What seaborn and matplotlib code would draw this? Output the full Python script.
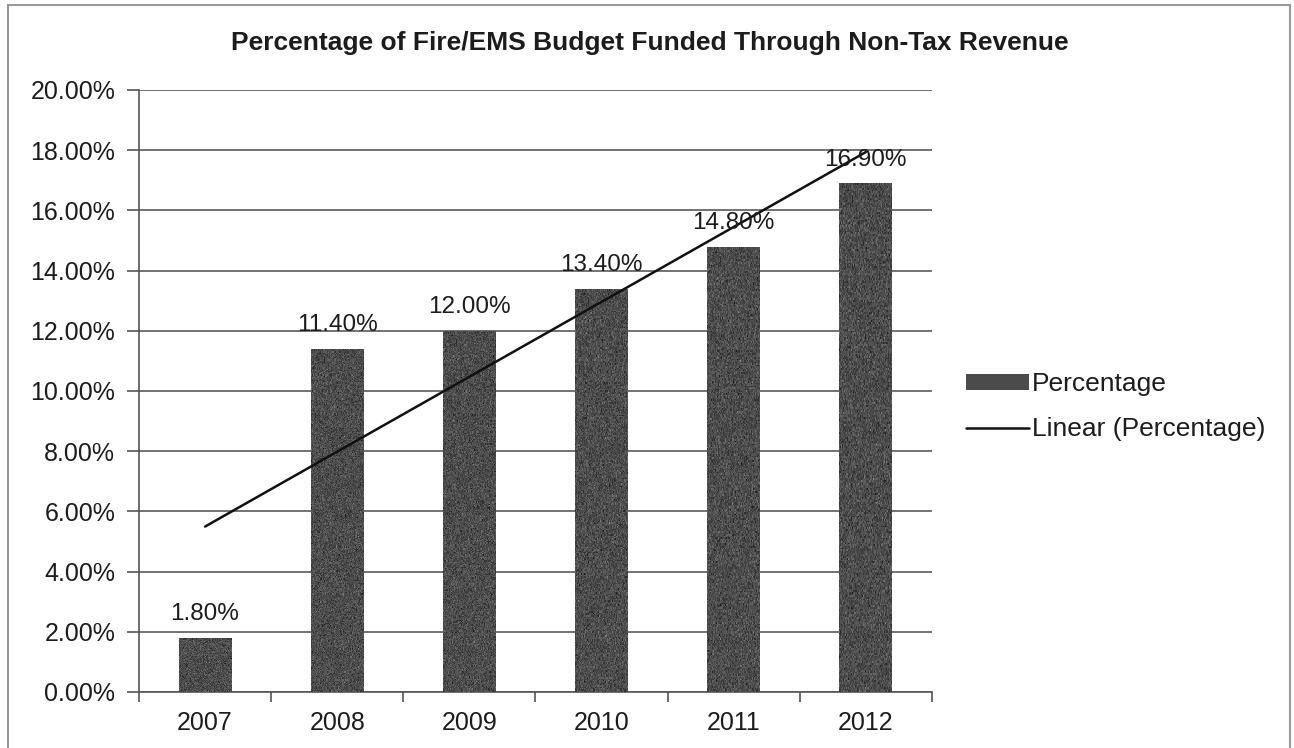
import numpy as np
import pandas as pd
import matplotlib
matplotlib.use("Agg")
import matplotlib.pyplot as plt
from matplotlib.patches import Patch, Rectangle
from matplotlib.lines import Line2D
import seaborn as sns

# Share of the Fire/EMS budget funded through non-tax revenue, by year
years = ["2007", "2008", "2009", "2010", "2011", "2012"]
percentages = [1.80, 11.40, 12.00, 13.40, 14.80, 16.90]

sns.set_theme(style="white")
plt.rcParams["font.family"] = ["Liberation Sans", "DejaVu Sans"]

df = pd.DataFrame({"Year": years, "Percentage": percentages})

fig = plt.figure(figsize=(12.94, 7.48), dpi=100)
ax = fig.add_axes([0.1074, 0.0749, 0.6128, 0.8048])

text_color = "#1c1c1c"
bar_color = "#4b4b4b"
sns.barplot(data=df, x="Year", y="Percentage", color=bar_color, width=0.4,
            saturation=1, linewidth=0, ax=ax, zorder=3)

# Print-style speckle inside the bars
rng = np.random.default_rng(7)
speckle = rng.normal(0.30, 0.06, size=(300, 60)).clip(0, 1)
for bar in ax.patches:
    x0, y0 = bar.get_x(), bar.get_y()
    w, h = bar.get_width(), bar.get_height()
    im = ax.imshow(speckle, cmap="gray", vmin=0, vmax=1, aspect="auto",
                   extent=(x0, x0 + w, y0, y0 + h), interpolation="nearest",
                   zorder=3.5)
    im.set_clip_path(bar)

# Linear trendline fitted through the yearly values
xs = np.arange(len(percentages))
slope, intercept = np.polyfit(xs, percentages, 1)
ax.plot(xs, slope * xs + intercept, color="#111111", lw=1.8, zorder=5)

# Value labels above each bar
for i, v in enumerate(percentages):
    ax.annotate(f"{v:.2f}%", (i, v), xytext=(0, 9), textcoords="offset points",
                ha="center", va="bottom", fontsize=17.5, color=text_color, zorder=6)

ax.set_ylim(0, 20)
ax.set_xlim(-0.5, len(years) - 0.5)
ax.set_yticks(np.arange(0, 20.01, 2))
ax.set_yticklabels([f"{t:.2f}%" for t in np.arange(0, 20.01, 2)])
ax.yaxis.grid(True, color="#5a5a5a", lw=1.2, zorder=0)
ax.set_axisbelow(True)
ax.set_xlabel("")
ax.set_ylabel("")

# Category boundary ticks on the x axis, labels centred under bars
ax.set_xticks(np.arange(-0.5, len(years) + 0.5, 1), minor=False)
ax.set_xticklabels([])
ax.set_xticks(xs, minor=True)
ax.set_xticklabels(years, minor=True)
ax.tick_params(axis="x", which="major", direction="out", length=7, width=1.2,
               color="#555555", bottom=True)
ax.tick_params(axis="x", which="minor", length=0, pad=14, labelsize=18,
               labelcolor=text_color)
ax.tick_params(axis="y", direction="out", length=9, width=1.2, color="#555555",
               left=True, pad=8, labelsize=18, labelcolor=text_color)

for side in ["top", "right"]:
    ax.spines[side].set_visible(False)
for side in ["left", "bottom"]:
    ax.spines[side].set_color("#555555")
    ax.spines[side].set_linewidth(1.2)

fig.text(0.502, 0.943, "Percentage of Fire/EMS Budget Funded Through Non-Tax Revenue",
         ha="center", va="center", fontsize=19, fontweight="bold", color=text_color)

handles = [Patch(facecolor=bar_color, edgecolor="none", label="Percentage"),
           Line2D([0], [0], color="#111111", lw=1.8, label="Linear (Percentage)")]
fig.legend(handles=handles, loc="center left", bbox_to_anchor=(0.728, 0.456),
           frameon=False, fontsize=19, handlelength=2.4, handleheight=0.55,
           handletextpad=0.1, labelspacing=0.8, labelcolor=text_color)

# Outer chart frame
fig.patches.append(Rectangle((0.006, -0.01), 0.991, 1.003, transform=fig.transFigure,
                             fill=False, edgecolor="#9a9a9a", lw=1.5))

fig.savefig("out.png", dpi=100, facecolor="white")
